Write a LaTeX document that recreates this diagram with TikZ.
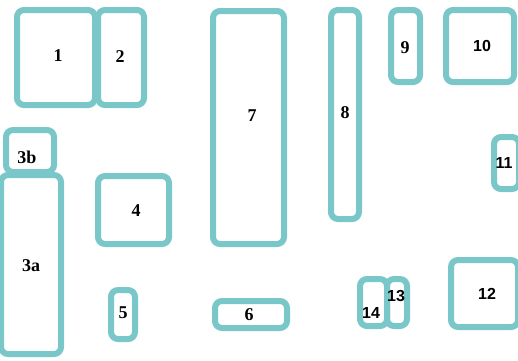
\documentclass[tikz,border=0pt]{standalone}
\usepackage{fontspec}
\setmainfont{Liberation Serif}
\newfontfamily\lblsans{Liberation Sans}
\definecolor{teal1}{RGB}{122,199,201}
\tikzset{
  box/.style={draw=teal1, line width=6pt, rounded corners=7pt},
  lbl/.style={font=\fontsize{18}{20}\selectfont\bfseries, inner sep=0pt},
  lbls/.style={font=\fontsize{16}{18}\selectfont\lblsans\bfseries, inner sep=0pt},
}
\newcommand{\bx}[5]{\draw[box] (#2+3,#3+3) rectangle (#4-3,#5-3) node[coordinate] (#1) {};}
\begin{document}
\begin{tikzpicture}[x=1pt,y=-1pt]
\useasboundingbox (0,0) rectangle (518,360);
\bx{b1}{14}{7}{98}{108}
\bx{b2}{95}{7}{147}{108}
\bx{b3b}{3}{127}{57}{175}
\bx{b3a}{-2}{172}{64}{357}
\bx{b4}{95}{173}{172}{247}
\bx{b5}{108}{287}{138}{342}
\bx{b6}{212}{298}{290}{331}
\bx{b7}{210}{8}{287}{247}
\bx{b8}{328}{7}{362}{222}
\bx{b9}{388}{7}{423}{85}
\bx{b10}{443}{7}{517}{85}
\bx{b11}{491}{134}{522}{192}
\bx{b12}{448}{257}{521}{330}
\bx{b14}{357}{276}{390}{329}
\bx{b13}{384}{276}{410}{329}
\node[lbl] (l1) at (58,56) {1};
\node[lbl] (l2) at (120,57) {2};
\node[lbl] (l3b) at (27,157) {3b};
\node[lbl] (l3a) at (31,266) {3a};
\node[lbl] (l4) at (136,211) {4};
\node[lbl] (l5) at (123,313) {5};
\node[lbl] (l6) at (249,315) {6};
\node[lbl] (l7) at (252,116) {7};
\node[lbl] (l8) at (345,113) {8};
\node[lbl] (l9) at (405,48) {9};
\node[lbls] (l10) at (482,46) {10};
\node[lbls] (l11) at (504,163) {11};
\node[lbls] (l12) at (487,294) {12};
\node[lbls] (l13) at (396,296) {13};
\node[lbls] (l14) at (371,313) {14};
\end{tikzpicture}
\end{document}
